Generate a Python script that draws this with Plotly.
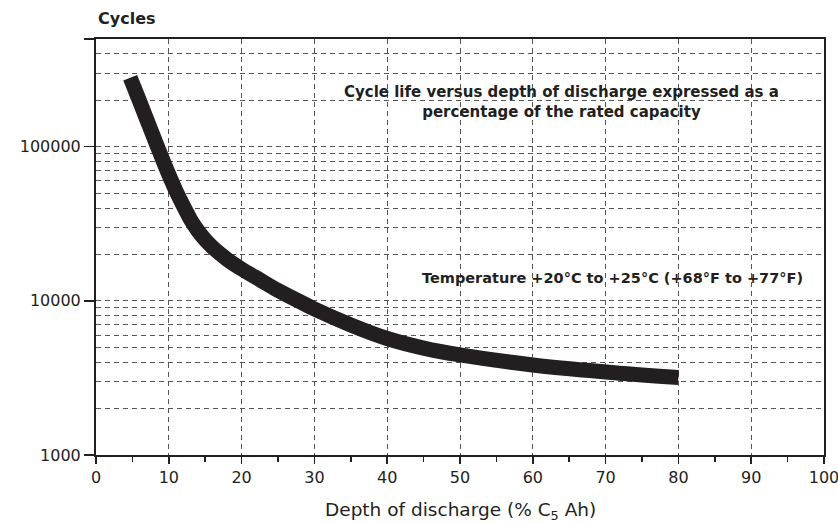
import math
import plotly.graph_objects as go

# Data
dod = [4.7, 6, 7, 8, 9, 10, 11, 12, 13, 14, 15, 16, 17, 18, 20, 22.5, 25, 28.5, 30,
       35, 40, 45, 50, 60, 70, 80]
cycles = [280000, 197000, 149000, 113000, 86000, 66000, 51500, 41300, 33600, 28500, 24900,
          22300, 20300, 18600, 16100, 13700, 11700, 9620, 8860, 6980, 5700, 4940, 4460,
          3840, 3460, 3180]

x_ticks = [0, 10, 20, 30, 40, 50, 60, 70, 80, 90, 100]
x_minor = [5, 15, 25, 35, 45, 55, 65, 75, 85, 95]
y_major = [1000, 10000, 100000]
y_grid = [m * 10 ** e for e in (3, 4) for m in range(1, 10)] + [100000, 200000, 300000, 400000]
y_top = 500000

FONT = "DejaVu Sans"
INK = "#231f20"
GRID = "#555555"

fig = go.Figure()

fig.add_trace(go.Scatter(
    x=dod, y=cycles, mode="lines",
    line=dict(color=INK, width=15, shape="spline", smoothing=1.0),
    hoverinfo="skip", showlegend=False,
))
# helper trace so the overlay axis (decade ticks / labels) is drawn
fig.add_trace(go.Scatter(
    x=[50], y=[1000], yaxis="y2", mode="markers",
    marker=dict(opacity=0), hoverinfo="skip", showlegend=False,
))

yrange = [math.log10(1000), math.log10(y_top)]

fig.update_layout(
    width=838, height=523,
    margin=dict(l=95.5, r=14, t=39, b=68),
    paper_bgcolor="white", plot_bgcolor="white",
    font=dict(family=FONT, color=INK, size=15),
    xaxis=dict(
        range=[0, 100], tickvals=x_ticks, ticktext=[str(v) for v in x_ticks],
        ticks="outside", ticklen=7, tickwidth=1.5, tickcolor=INK,
        showline=True, linecolor=INK, linewidth=2, mirror=True,
        showgrid=True, gridcolor=GRID, griddash="5px,4px", gridwidth=1,
        zeroline=False, automargin=False, ticklabeloverflow="allow",
        minor=dict(tickvals=x_minor, ticks="outside", ticklen=5, tickwidth=1.5,
                   tickcolor=INK, showgrid=False),
        tickfont=dict(family=FONT, size=16, color=INK),
    ),
    yaxis=dict(
        type="log", range=yrange,
        tickvals=y_grid, ticktext=["" for _ in y_grid], ticks="",
        showline=True, linecolor=INK, linewidth=2, mirror=True,
        showgrid=True, gridcolor=GRID, griddash="5px,4px", gridwidth=1,
        zeroline=False, automargin=False,
    ),
    yaxis2=dict(
        type="log", range=yrange, overlaying="y", side="left",
        tickvals=y_major + [y_top], ticktext=[str(v) for v in y_major] + [""],
        ticks="outside", ticklen=11, tickwidth=1.5, tickcolor=INK,
        showgrid=False, showline=False, zeroline=False, automargin=False,
        tickfont=dict(family=FONT, size=16, color=INK),
    ),
    annotations=[
        dict(text="<b>Cycles</b>", xref="paper", yref="paper", x=0, y=1,
             xanchor="left", yanchor="middle", yshift=21, showarrow=False,
             font=dict(family=FONT, size=16, color=INK)),
        dict(text="<b>Cycle life versus depth of discharge expressed as a<br>percentage of the rated capacity</b>",
             xref="x", yref="paper", x=64.0, y=0.849, xanchor="center", yanchor="middle",
             showarrow=False, align="center",
             font=dict(family=FONT, size=15, color=INK)),
        dict(text="<b>Temperature +20°C to +25°C (+68°F to +77°F)</b>",
             xref="x", yref="paper", x=97.4, y=0.425, xanchor="right", yanchor="middle",
             showarrow=False, font=dict(family=FONT, size=14.5, color=INK)),
        dict(text="Depth of discharge (% C<sub>5</sub> Ah)",
             xref="paper", yref="paper", x=0.5, y=0, yshift=-56, xanchor="center", yanchor="middle",
             showarrow=False, font=dict(family=FONT, size=18.5, color=INK)),
    ],
)

fig.write_html("out.html",
               config={"displayModeBar": False, "staticPlot": True},
               post_script="document.body.style.margin='0';document.body.style.overflow='hidden';")
